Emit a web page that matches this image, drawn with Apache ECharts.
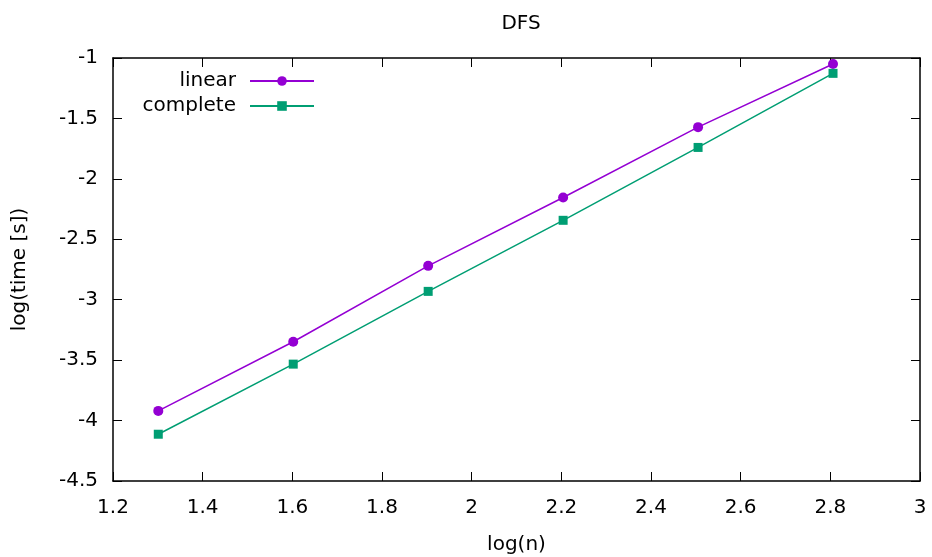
<!DOCTYPE html>
<html><head><meta charset="utf-8">
<script src="https://cdn.jsdelivr.net/npm/echarts@6/dist/echarts.min.js"></script>
<style>html,body{margin:0;padding:0;background:#fff}#c{width:932px;height:557px}</style>
</head><body><div id="c"></div>
<script>
const xValues = [1.301, 1.602, 1.903, 2.204, 2.505, 2.806];
const linearY = [-3.92, -3.348, -2.72, -2.154, -1.572, -1.05];
const completeY = [-4.113, -3.533, -2.931, -2.343, -1.74, -1.127];
const seriesNames = ['linear', 'complete'];
const FONT = 'DejaVu Sans';
const FS = 20;

const chart = echarts.init(document.getElementById('c'));
const pair = (xs, ys) => xs.map((x, i) => [x, ys[i]]);
const tickStyle = {show: true, inside: true, length: 9, lineStyle: {color: '#000', width: 1}};
const common = {axisLine: {show: true, onZero: false, lineStyle: {color: '#000', width: 1.5}}, splitLine: {show: false}, axisTick: tickStyle};
const txt = {fontFamily: FONT, fontSize: FS, color: '#000'};
chart.setOption({
  animation: false,
  title: {text: 'DFS', left: 516, textAlign: 'center', top: 9, textStyle: Object.assign({fontWeight: 'normal'}, txt)},
  grid: {left: 113, right: 12, top: 58, bottom: 76, containLabel: false, outerBoundsMode: 'none'},
  legend: [
    {data: ['linear'], orient: 'vertical', align: 'right', right: 612, top: 66, itemWidth: 64, itemHeight: 12, textStyle: Object.assign({padding: [0, 9, 0, 0]}, txt)},
    {data: ['complete'], orient: 'vertical', align: 'right', right: 612, top: 91, itemWidth: 64, itemHeight: 12, textStyle: Object.assign({padding: [0, 9, 0, 0]}, txt)}
  ],
  xAxis: [
    Object.assign({type: 'value', min: 1.2, max: 3, interval: 0.2, position: 'bottom', name: 'log(n)', nameLocation: 'middle', nameGap: 54,
      nameTextStyle: txt,
      axisLabel: Object.assign({margin: 17, formatter: v => +v.toFixed(1) + ''}, txt)}, common),
    Object.assign({type: 'value', min: 1.2, max: 3, interval: 0.2, position: 'top', axisLabel: {show: false}}, common)
  ],
  yAxis: [
    Object.assign({type: 'value', min: -4.5, max: -1, interval: 0.5, position: 'left', name: 'log(time [s])', nameLocation: 'middle', nameGap: 83,
      nameTextStyle: txt,
      axisLabel: Object.assign({margin: 15, padding: [5, 0, 0, 0], formatter: v => +v.toFixed(1) + ''}, txt)}, common),
    Object.assign({type: 'value', min: -4.5, max: -1, interval: 0.5, position: 'right', axisLabel: {show: false}}, common)
  ],
  series: [
    {name: seriesNames[0], type: 'line', data: pair(xValues, linearY), symbol: 'circle', symbolSize: 10,
      lineStyle: {color: '#9400D3', width: 1.5}, itemStyle: {color: '#9400D3'}},
    {name: seriesNames[1], type: 'line', data: pair(xValues, completeY), symbol: 'rect', symbolSize: 9,
      lineStyle: {color: '#009E73', width: 1.5}, itemStyle: {color: '#009E73'}}
  ]
});
</script></body></html>
